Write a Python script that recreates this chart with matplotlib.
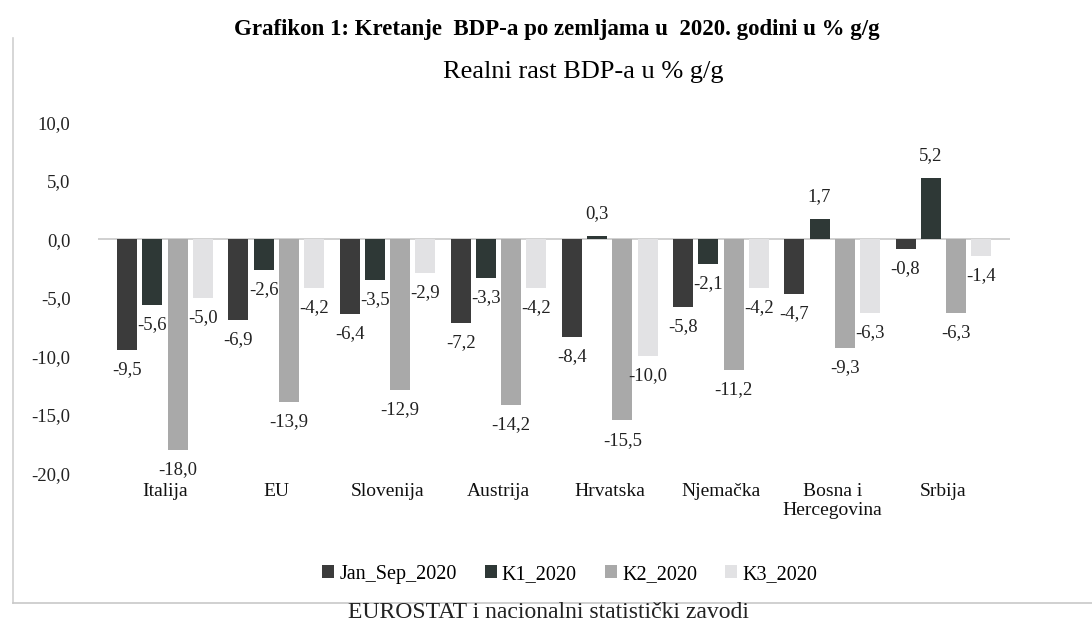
import matplotlib.pyplot as plt
import numpy as np
from matplotlib.lines import Line2D

countries = ["Italija", "EU", "Slovenija", "Austrija", "Hrvatska",
             "Njemačka", "Bosna i\nHercegovina", "Srbija"]
series_names = ["Jan_Sep_2020", "K1_2020", "K2_2020", "K3_2020"]
jan_sep = [-9.5, -6.9, -6.4, -7.2, -8.4, -5.8, -4.7, -0.8]
k1 = [-5.6, -2.6, -3.5, -3.3, 0.3, -2.1, 1.7, 5.2]
k2 = [-18.0, -13.9, -12.9, -14.2, -15.5, -11.2, -9.3, -6.3]
k3 = [-5.0, -4.2, -2.9, -4.2, -10.0, -4.2, -6.3, -1.4]
y_ticks = [10, 5, 0, -5, -10, -15, -20]

colors = ["#3b3b3b", "#2e3836", "#a9a9a9", "#e2e2e4"]
font = ["Liberation Serif", "DejaVu Serif"]
plt.rcParams["font.family"] = font


def fmt(v):
    return f"{v:.1f}".replace(".", ",")


fig = plt.figure(figsize=(10.92, 6.30), dpi=100)
ax = fig.add_axes([0.09, 0.249, 0.835, 0.557])

x = np.arange(len(countries))
width = 0.18
step = 0.227
all_series = [jan_sep, k1, k2, k3]
for i, (name, vals) in enumerate(zip(series_names, all_series)):
    pos = x + (i - 1.5) * step
    ax.bar(pos, vals, width, color=colors[i], label=name, zorder=2)
    for px, v in zip(pos, vals):
        if v >= 0:
            ax.annotate(fmt(v), (px, v), xytext=(0, 10), textcoords="offset points",
                        ha="center", va="bottom", fontsize=13.5, color="#222222")
        else:
            ax.annotate(fmt(v), (px, v), xytext=(0, -8), textcoords="offset points",
                        ha="center", va="top", fontsize=13.5, color="#222222")

ax.axhline(0, color="#c8c8c8", linewidth=1.2, zorder=1)
ax.set_ylim(-20, 10)
ax.set_xlim(-0.6, len(countries) - 0.4)
ax.set_yticks(y_ticks)
ax.set_yticklabels([fmt(v) for v in y_ticks], fontsize=13.5, color="#222222")
ax.set_xticks(x)
ax.set_xticklabels(countries, fontsize=14, color="#111111", va="top")
ax.tick_params(axis="both", length=0)
ax.tick_params(axis="y", pad=20)
ax.tick_params(axis="x", pad=7)
for sp in ax.spines.values():
    sp.set_visible(False)

ax.legend(loc="upper center", bbox_to_anchor=(0.517, -0.21), ncol=4, frameon=False,
          fontsize=14.5, handlelength=0.6, handleheight=0.6, handletextpad=0.25,
          columnspacing=1.4)

fig.text(0.51, 0.953, "Grafikon 1: Kretanje  BDP-a po zemljama u  2020. godini u % g/g",
         ha="center", va="center", fontsize=16.5, fontweight="bold")
fig.text(0.534, 0.885, "Realni rast BDP-a u % g/g", ha="center", va="center", fontsize=19)
fig.text(0.502, 0.027, "EUROSTAT i nacionalni statistički zavodi", ha="center",
         va="center", fontsize=17, color="#222222")

fig.add_artist(Line2D([0.012, 0.012], [0.043, 0.94], color="#d0d0d0", linewidth=1.2))
fig.add_artist(Line2D([0.012, 1.0], [0.043, 0.043], color="#c8c8c8", linewidth=1.2))

fig.savefig("out.png", dpi=100)
